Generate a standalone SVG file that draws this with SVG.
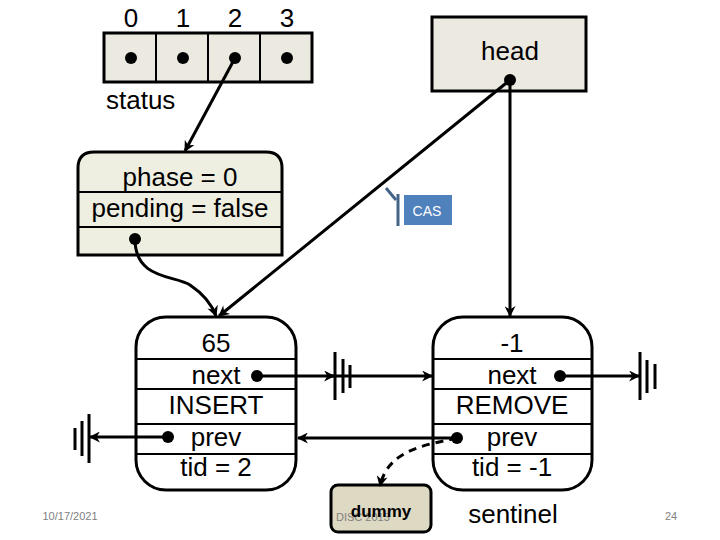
<svg xmlns="http://www.w3.org/2000/svg" width="720" height="540" viewBox="0 0 720 540">
<defs>
<marker id="ah" viewBox="0 0 10 10" refX="9" refY="5" markerWidth="13" markerHeight="11" orient="auto" markerUnits="userSpaceOnUse">
<path d="M0,0 L10,5 L0,10 L3,5 z" fill="#000"/>
</marker>
<style>
.t{font-family:"Liberation Sans",Arial,sans-serif;font-size:26px;fill:#000;text-anchor:middle}
.box{stroke:#000;stroke-width:3}
.row{stroke:#000;stroke-width:2}
.dot{fill:#000}
.conn{stroke:#000;stroke-width:3;fill:none}
.gnd{stroke:#000;stroke-width:3}
</style>
</defs>
<rect width="720" height="540" fill="#fff"/>

<g id="status">
<rect x="104" y="33" width="208" height="49" fill="#ECE9E0" class="box"/>
<line x1="156" y1="33" x2="156" y2="82" class="row"/>
<line x1="208" y1="33" x2="208" y2="82" class="row"/>
<line x1="260" y1="33" x2="260" y2="82" class="row"/>
<circle cx="131" cy="58" r="6" class="dot"/>
<circle cx="183" cy="58" r="6" class="dot"/>
<circle cx="235" cy="58" r="6" class="dot"/>
<circle cx="287" cy="58" r="6" class="dot"/>
<text x="131" y="27" class="t">0</text>
<text x="183" y="27" class="t">1</text>
<text x="235" y="27" class="t">2</text>
<text x="287" y="27" class="t">3</text>
<text x="106" y="109" class="t" style="text-anchor:start">status</text>
</g>

<g id="head">
<rect x="432" y="17" width="154" height="74" fill="#ECE9E0" class="box"/>
<text x="510" y="60" class="t">head</text>
<circle cx="510" cy="80" r="6" class="dot"/>
</g>

<g id="phase">
<path d="M78,255 L78,168 Q78,152 94,152 L266,152 Q282,152 282,168 L282,255 Z" fill="#EEEFE0" class="box"/>
<line x1="78" y1="192" x2="282" y2="192" class="row"/>
<line x1="78" y1="227" x2="282" y2="227" class="row"/>
<text x="180" y="186" class="t">phase = 0</text>
<text x="180" y="217" class="t">pending = false</text>
<circle cx="135" cy="239" r="6" class="dot"/>
</g>

<g id="cas">
<polyline points="386,188 396,200" stroke="#44648A" stroke-width="3" fill="none"/>
<line x1="398" y1="194" x2="398" y2="226" stroke="#44648A" stroke-width="3"/>
<rect x="404" y="195" width="48" height="30" fill="#4F81BD"/>
<text x="427" y="216" style="font-family:'Liberation Sans',Arial,sans-serif;font-size:14px;fill:#fff;text-anchor:middle">CAS</text>
</g>

<g id="node65">
<rect x="136" y="317" width="160" height="173" rx="30" ry="30" fill="#fff" class="box"/>
<line x1="136" y1="359" x2="296" y2="359" class="row"/>
<line x1="136" y1="389" x2="296" y2="389" class="row"/>
<line x1="136" y1="424" x2="296" y2="424" class="row"/>
<line x1="136" y1="454" x2="296" y2="454" class="row"/>
<text x="216" y="352" class="t">65</text>
<text x="216" y="384" class="t">next</text>
<text x="216" y="414" class="t">INSERT</text>
<text x="216" y="446" class="t">prev</text>
<text x="216" y="476" class="t">tid = 2</text>
<circle cx="257" cy="376" r="6" class="dot"/>
<circle cx="168" cy="437" r="6" class="dot"/>
</g>

<g id="nodeSentinel">
<rect x="433" y="317" width="159" height="173" rx="30" ry="30" fill="#fff" class="box"/>
<line x1="433" y1="359" x2="592" y2="359" class="row"/>
<line x1="433" y1="389" x2="592" y2="389" class="row"/>
<line x1="433" y1="424" x2="592" y2="424" class="row"/>
<line x1="433" y1="454" x2="592" y2="454" class="row"/>
<text x="512" y="352" class="t">-1</text>
<text x="512" y="384" class="t">next</text>
<text x="512" y="414" class="t">REMOVE</text>
<text x="512" y="446" class="t">prev</text>
<text x="512" y="476" class="t">tid = -1</text>
<circle cx="560" cy="376" r="6" class="dot"/>
<circle cx="457" cy="438" r="6" class="dot"/>
<text x="513" y="523" class="t">sentinel</text>
</g>

<g id="dummy">
<rect x="331" y="485" width="100" height="47" rx="7" ry="7" fill="#DDD9C3" class="box"/>
<text x="336" y="521" style="font-family:'Liberation Sans',Arial,sans-serif;font-size:11px;fill:#808080">DISC 2013</text>
<text x="381" y="517" class="t" style="font-size:17px;font-weight:bold">dummy</text>
</g>

<g id="grounds">
<line x1="335" y1="352" x2="335" y2="400" class="gnd"/>
<line x1="343" y1="359" x2="343" y2="393" class="gnd"/>
<line x1="350" y1="365" x2="350" y2="388" class="gnd"/>
<line x1="640" y1="352" x2="640" y2="400" class="gnd"/>
<line x1="647" y1="360" x2="647" y2="393" class="gnd"/>
<line x1="655" y1="364" x2="655" y2="389" class="gnd"/>
<line x1="89" y1="414" x2="89" y2="463" class="gnd"/>
<line x1="82" y1="421" x2="82" y2="456" class="gnd"/>
<line x1="75" y1="428" x2="75" y2="450" class="gnd"/>
</g>

<g id="connectors">
<line x1="235" y1="58" x2="185" y2="151" class="conn" marker-end="url(#ah)"/>
<line x1="510" y1="80" x2="219" y2="316" class="conn" marker-end="url(#ah)"/>
<line x1="510" y1="80" x2="510" y2="316" class="conn" marker-end="url(#ah)"/>
<path d="M135,239 C135,280 175,275 190,285 C205,295 212,305 216,316" class="conn" marker-end="url(#ah)"/>
<line x1="257" y1="376" x2="334" y2="376" class="conn" marker-end="url(#ah)"/>
<line x1="330" y1="376" x2="432" y2="376" class="conn" marker-end="url(#ah)"/>
<line x1="560" y1="376" x2="639" y2="376" class="conn" marker-end="url(#ah)"/>
<line x1="168" y1="437" x2="90" y2="437" class="conn" marker-end="url(#ah)"/>
<line x1="457" y1="438" x2="298" y2="438" class="conn" marker-end="url(#ah)"/>
<path d="M457,438 C425,445 388,450 380,486" class="conn" stroke-dasharray="8,6" marker-end="url(#ah)"/>
</g>

<text x="70" y="520" style="font-family:'Liberation Sans',Arial,sans-serif;font-size:11px;fill:#808080;text-anchor:middle">10/17/2021</text>
<text x="671" y="520" style="font-family:'Liberation Sans',Arial,sans-serif;font-size:11px;fill:#808080;text-anchor:middle">24</text>
</svg>
